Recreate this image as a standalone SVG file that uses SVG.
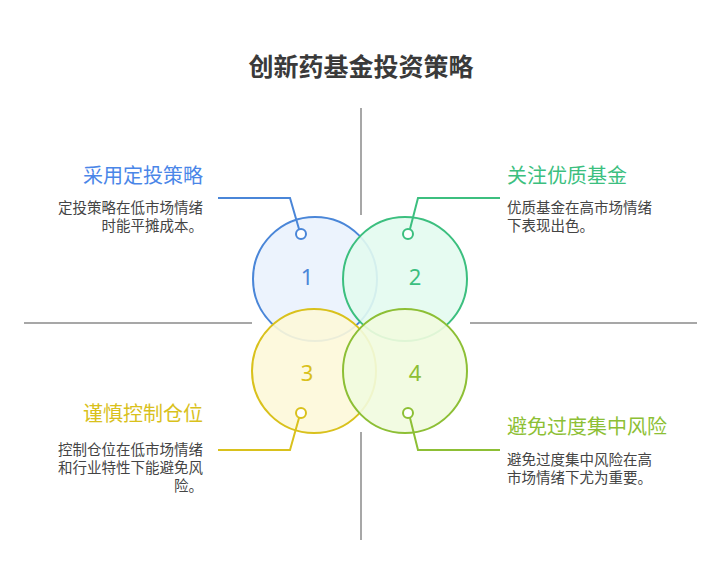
<svg xmlns="http://www.w3.org/2000/svg" width="721" height="588" viewBox="0 0 721 588">
<style>
text{font-family:"Noto Sans CJK SC","Noto Sans",sans-serif}
.ax{stroke:#8a8a8a;stroke-width:1.5;fill:none}
.c{stroke-width:2}
.num{font-size:22px;text-anchor:middle;font-family:"Noto Sans",sans-serif}
.h{font-size:20px}
.d{font-size:14.5px;fill:#444}
.ld{fill:none;stroke-width:2}
.r{text-anchor:end}
</style>
<rect width="721" height="588" fill="#fff"/>
<text x="361" y="76" text-anchor="middle" font-size="25" font-weight="bold" fill="#3a3a3a">创新药基金投资策略</text>
<g id="axes">
<line class="ax" x1="361" y1="108" x2="361" y2="215"/>
<line class="ax" x1="361" y1="432" x2="361" y2="540"/>
<line class="ax" x1="24" y1="323" x2="252" y2="323"/>
<line class="ax" x1="470" y1="323" x2="697" y2="323"/>
</g>
<g id="n1"><circle class="c" cx="315" cy="279" r="62" fill="#eaf2fd" fill-opacity="0.9" stroke="#4a86d8"/></g>
<g id="n2"><circle class="c" cx="405" cy="279" r="62" fill="#e3fbef" fill-opacity="0.9" stroke="#3cbf7f"/></g>
<g id="n3"><circle class="c" cx="314" cy="371" r="62" fill="#fdf8d9" fill-opacity="0.9" stroke="#d9c11c"/></g>
<g id="n4"><circle class="c" cx="405" cy="371" r="62" fill="#f1fbdf" fill-opacity="0.9" stroke="#8dbf35"/></g>
<text class="num" x="307" y="285" fill="#4a86d8">1</text>
<text class="num" x="415" y="285" fill="#3cbf7f">2</text>
<text class="num" x="307" y="381" fill="#d9c11c">3</text>
<text class="num" x="415" y="381" fill="#8dbf35">4</text>
<g id="connectors">
<polyline class="ld" stroke="#4a86d8" points="218,198 290,198 299,229"/>
<polyline class="ld" stroke="#3cbf7f" points="500,198 418,198 410,229"/>
<polyline class="ld" stroke="#d9c11c" points="218,450 290,450 299,418"/>
<polyline class="ld" stroke="#8dbf35" points="500,450 418,450 410,418"/>
<circle cx="301" cy="234" r="5" fill="#fff" stroke="#4a86d8" stroke-width="2"/>
<circle cx="408" cy="234" r="5" fill="#fff" stroke="#3cbf7f" stroke-width="2"/>
<circle cx="301" cy="413" r="5" fill="#fff" stroke="#d9c11c" stroke-width="2"/>
<circle cx="408" cy="413" r="5" fill="#fff" stroke="#8dbf35" stroke-width="2"/>
</g>
<g id="t1">
<text class="h r" x="203" y="183" fill="#4a86e8">采用定投策略</text>
<text class="d r" x="203" y="213">定投策略在低市场情绪</text>
<text class="d r" x="203" y="231">时能平摊成本。</text>
</g>
<g id="t2">
<text class="h" x="507" y="183" fill="#3cbf7f">关注优质基金</text>
<text class="d" x="507" y="213">优质基金在高市场情绪</text>
<text class="d" x="507" y="231">下表现出色。</text>
</g>
<g id="t3">
<text class="h r" x="203" y="421" fill="#d9c11c">谨慎控制仓位</text>
<text class="d r" x="203" y="455">控制仓位在低市场情绪</text>
<text class="d r" x="203" y="473">和行业特性下能避免风</text>
<text class="d r" x="203" y="491">险。</text>
</g>
<g id="t4">
<text class="h" x="507" y="434" fill="#8dbf35">避免过度集中风险</text>
<text class="d" x="507" y="465">避免过度集中风险在高</text>
<text class="d" x="507" y="483">市场情绪下尤为重要。</text>
</g>
</svg>
